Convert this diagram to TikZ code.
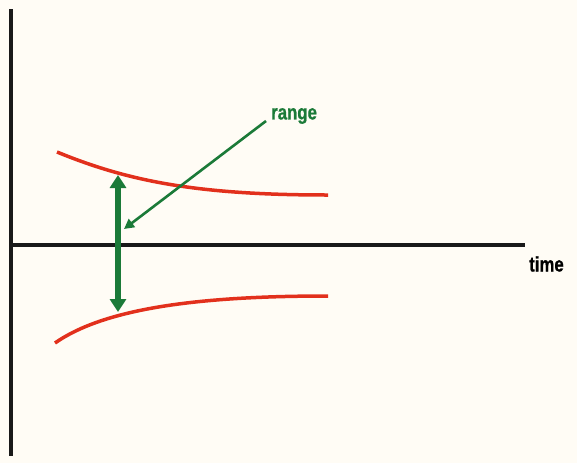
\documentclass[tikz,border=0pt]{standalone}
\usepackage{fontspec}
\setmainfont{Liberation Sans}[BoldFeatures={FakeBold=0.8}]
\usetikzlibrary{arrows.meta,positioning,calc}

\definecolor{paper}{HTML}{FFFCF5}
\definecolor{rangegreen}{HTML}{1B7A38}
\definecolor{bandred}{HTML}{E2301C}

\begin{document}
\begin{tikzpicture}[x=1pt, y=-1pt,
    axis/.style={line width=4.5pt, black!90},
    band/.style={line width=3.5pt, bandred},
    label/.style={font=\bfseries\fontsize{21}{21}\selectfont, inner sep=0pt}
]

\fill[paper] (0,0) rectangle (577,463);
\useasboundingbox (0,0) rectangle (577,463);

% Axes
\coordinate (ytop) at (11,9);
\coordinate (ybot) at (11,456);
\coordinate (origin) at (11,245);
\coordinate (xend) at (525,245);
\draw[axis] (ytop) -- (ybot);
\draw[axis] (origin) -- (xend);
\node[label, anchor=west] (time) at (529,264) {\scalebox{0.8}[1]{time}};

% Range band
\coordinate (up0) at (57,152);
\coordinate (up1) at (328,195);
\coordinate (lo0) at (55,343);
\coordinate (lo1) at (328,296);
\draw[band] (up0) .. controls (130,182) and (200,195) .. (up1);
\draw[band] (lo0) .. controls (105,308) and (200,296) .. (lo1);

% Range arrows
\coordinate (rtop) at (118,175);
\coordinate (rbot) at (118,312);
\draw[line width=5.5pt, rangegreen, {Triangle[length=13pt,width=16pt]}-{Triangle[length=13pt,width=16pt]}] (rtop) -- (rbot);

\node[label, text=rangegreen, anchor=west] (range) at (271,116) {\scalebox{0.8}[1]{range}};
\coordinate (rfrom) at (266,121);
\coordinate (rtip) at (124,229);
\draw[line width=2.6pt, rangegreen, -{Triangle[length=10pt,width=10pt]}] (rfrom) -- (rtip);

\end{tikzpicture}
\end{document}
